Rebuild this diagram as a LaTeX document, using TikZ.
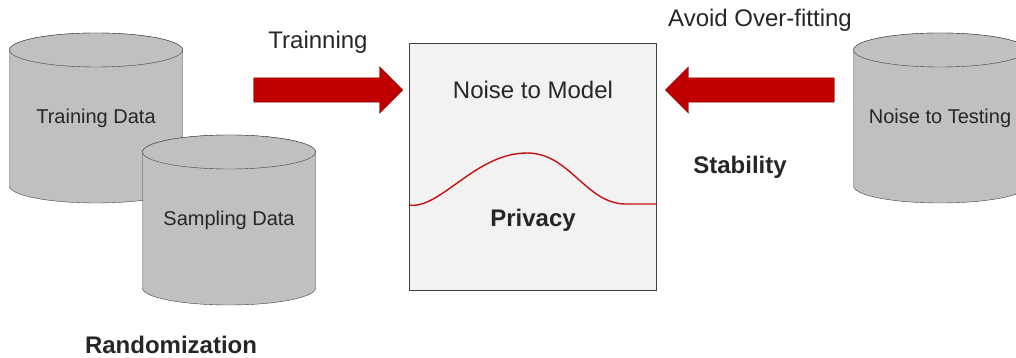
\documentclass[tikz,border=0pt]{standalone}
\usepackage{fontspec}
\setmainfont{Liberation Sans}
\usepackage{tikz}
\usetikzlibrary{positioning,shapes.arrows}
\definecolor{drumgray}{RGB}{192,192,192}
\definecolor{boxgray}{RGB}{242,242,242}
\definecolor{arrowred}{RGB}{192,0,0}
\definecolor{arrowedge}{RGB}{120,0,0}
\definecolor{curvered}{RGB}{196,16,16}

% cylinder: name, centre x, centre y, text
\newcommand{\datadrum}[4]{%
  \draw[drum] (#2-86.5,#3-68) -- (#2-86.5,#3+68)
    arc[start angle=180, end angle=360, x radius=86.5pt, y radius=17pt]
    -- (#2+86.5,#3-68)
    arc[start angle=0, end angle=180, x radius=86.5pt, y radius=17pt] -- cycle;
  \draw[drum] (#2,#3-68) ellipse[x radius=86.5pt, y radius=17pt];
  \node[drumtext] (#1) at (#2,#3) {#4};
}

\begin{document}
\begin{tikzpicture}[
    x=1pt, y=-1pt,
    drum/.style={draw=black!75, fill=drumgray},
    drumtext/.style={font=\fontsize{20}{24}\selectfont, text=black!85},
    bigarrow/.style={
        single arrow, draw=arrowedge, fill=arrowred, inner xsep=0pt, inner ysep=12pt,
        single arrow head extend=11pt, single arrow tip angle=90, anchor=tip
    },
    lbl/.style={font=\fontsize{24}{28}\selectfont, text=black!85},
    boldlbl/.style={font=\fontsize{24}{28}\selectfont\bfseries, text=black!85}
]
\useasboundingbox (0,0) rectangle (1016,358);
\clip (0,0) rectangle (1016,358);

% data stores
\datadrum{train}{96}{118}{Training Data}
\datadrum{sample}{229}{220}{Sampling Data}
\datadrum{test}{940}{118}{Noise to Testing}

% model box
\node[draw=black!75, fill=boxgray, minimum width=247pt, minimum height=247pt] (model) at (532.5,166.5) {};
\node[lbl] (noise) at (533,90) {Noise to Model};
\draw[curvered, line width=1.4pt] (409,205) .. controls (440,210) and (475,153) .. (527,153)
    .. controls (570,153) and (585,203) .. (625,204) -- (656,204);
\node[boldlbl] (privacy) at (533,220) {Privacy};

% arrows
\node[bigarrow, minimum height=149pt] (inarrow) at (403,90) {};
\node[bigarrow, shape border rotate=180, minimum height=169pt] (outarrow) at (665,90) {};

% labels
\node[lbl] (trainning) at (318,42) {Trainning};
\node[lbl] (avoid) at (760,20) {Avoid Over-fitting};
\node[boldlbl] (stability) at (740,167) {Stability};
\node[boldlbl] (random) at (171,345) {Randomization};
\end{tikzpicture}
\end{document}
